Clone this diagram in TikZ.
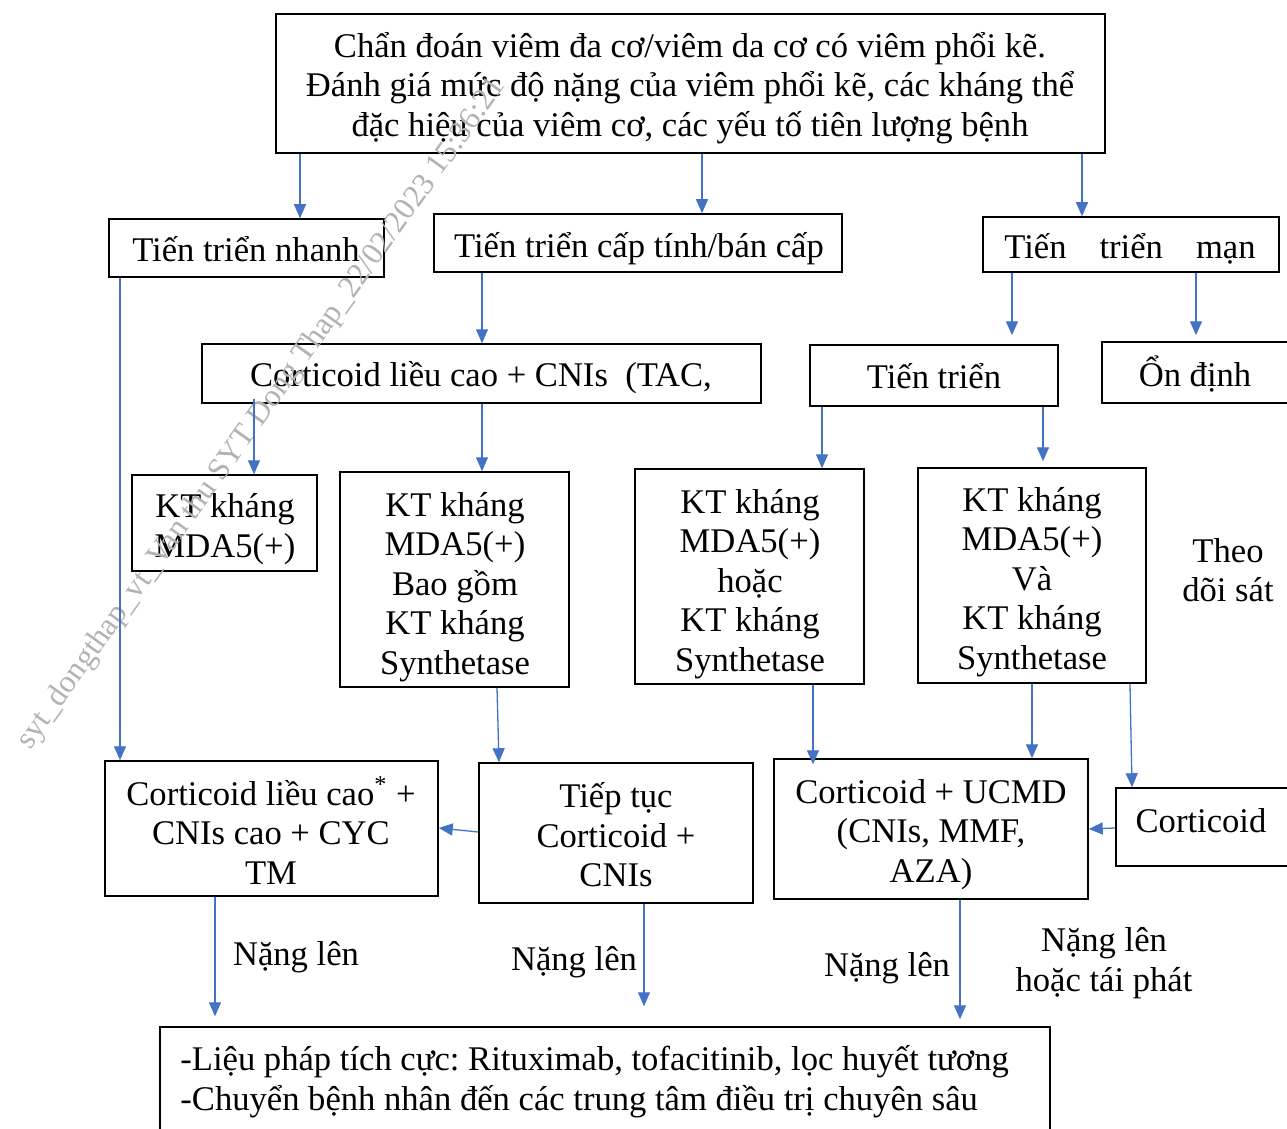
\documentclass[tikz,border=0pt]{standalone}
\usepackage{fontspec}
\setmainfont{Liberation Serif}
\usetikzlibrary{arrows.meta}
\definecolor{arrblue}{HTML}{4472C4}
\begin{document}
\begin{tikzpicture}[x=0.5pt,y=-0.5pt,
  txt/.style={font=\fontsize{17.3}{19.8}\selectfont\frenchspacing, inner sep=0pt, align=center},
  box/.style={draw=black, line width=0.75pt, inner sep=0pt},
  arr/.style={draw=arrblue, line width=0.65pt, -{Triangle[length=7pt,width=6pt]}},
  wm/.style={font=\fontsize{15.7}{18}\selectfont, text=black!30, inner sep=0pt}]
\clip (0,0) rectangle (1287,1129);
\fill[white] (0,0) rectangle (1287,1129);

% boxes
\node[box, minimum width=414.5pt, minimum height=69.5pt] (top) at (690.5,83.5) {};
\node[box, minimum width=137.5pt, minimum height=29pt] (nhanh) at (246.5,248) {};
\node[box, minimum width=204pt, minimum height=29pt] (captinh) at (638,243) {};
\node[box, minimum width=148pt, minimum height=27.5pt] (man) at (1131,244.5) {};
\node[box, minimum width=279.5pt, minimum height=29.5pt] (cort1) at (481.5,373.5) {};
\node[box, minimum width=124pt, minimum height=30.5pt] (tt) at (934,375.5) {};
\node[box, minimum width=94pt, minimum height=30.5pt] (ondinh) at (1196,372.5) {};
\node[box, minimum width=92.5pt, minimum height=48pt] (kt1) at (224.5,523) {};
\node[box, minimum width=114.5pt, minimum height=107.5pt] (kt2) at (454.5,579.5) {};
\node[box, minimum width=114.5pt, minimum height=107.5pt] (kt3) at (749.5,576.5) {};
\node[box, minimum width=114pt, minimum height=107.5pt] (kt4) at (1032,575.5) {};
\node[box, minimum width=166.5pt, minimum height=67.5pt] (c2) at (271.5,828.5) {};
\node[box, minimum width=137pt, minimum height=70pt] (tieptuc) at (616,833) {};
\node[box, minimum width=157pt, minimum height=70pt] (ucmd) at (931,829) {};
\node[box, minimum width=87pt, minimum height=39pt] (cortB) at (1203,827) {};
\node[box, minimum width=445pt, minimum height=56.5pt] (bottom) at (605,1083.5) {};

% texts of the boxes
\node[txt] (topT) at (690,88)
  {Chẩn đoán viêm đa cơ/viêm da cơ có viêm phổi kẽ.\\Đánh giá mức độ nặng của viêm phổi kẽ, các kháng thể\\đặc hiệu của viêm cơ, các yếu tố tiên lượng bệnh};
\node[txt] (nhanhT) at (246,249) {Tiến triển nhanh};
\node[txt] (captinhT) at (639,249) {Tiến triển cấp tính/bán cấp};
\node[txt] (manT) at (1130,249) {Tiến\hspace{16.5pt}triển\hspace{16.5pt}mạn};
\node[txt] (cort1T) at (481,378) {Corticoid liều cao + CNIs\ \ (TAC,};
\node[txt] (ttT) at (934,376) {Tiến triển};
\node[txt] (ondinhT) at (1195,374) {Ổn định};
\node[txt] (kt1T) at (225,529) {KT kháng\\MDA5(+)};
\node[txt] (kt2T) at (455,587) {KT kháng\\MDA5(+)\\Bao gồm\\KT kháng\\Synthetase};
\node[txt] (kt3T) at (750,584) {KT kháng\\MDA5(+)\\hoặc\\KT kháng\\Synthetase};
\node[txt] (kt4T) at (1032,582) {KT kháng\\MDA5(+)\\Và\\KT kháng\\Synthetase};
\node[txt] (theo) at (1228,570) {Theo\\dõi sát};
\node[txt] (c2T) at (271,830.5) {Corticoid liều cao\textsuperscript{*} +\\CNIs cao + CYC\\TM};
\node[txt] (tieptucT) at (616,835) {Tiếp tục\\Corticoid +\\CNIs};
\node[txt] (ucmdT) at (931,834.5) {Corticoid + UCMD\\(CNIs, MMF,\\AZA)};
\node[txt] (cortBT) at (1201,821) {Corticoid};
\node[txt, align=left, anchor=west] (bottomT) at (180,1082)
  {-Liệu pháp tích cực: Rituximab, tofacitinib, lọc huyết tương\\-Chuyển bệnh nhân đến các trung tâm điều trị chuyên sâu};

% labels
\node[txt] (nl1) at (296,957) {Nặng lên};
\node[txt] (nl2) at (574,962) {Nặng lên};
\node[txt] (nl3) at (887,968) {Nặng lên};
\node[txt] (nl4) at (1104,963) {Nặng lên\\hoặc tái phát};

% watermark
\node[wm, rotate=54.4] (wmark) at (262,414) {syt\_dongthap\_vt\_Van thu SYT Dong Thap\_22/02/2023 15:36:21};

% column / row helpers
\coordinate (x120) at (120,0);
\coordinate (x215) at (215,0);
\coordinate (x254) at (254,0);
\coordinate (x300) at (300,0);
\coordinate (x482) at (482,0);
\coordinate (x497) at (497,0);
\coordinate (x499) at (499,0);
\coordinate (x644) at (644,0);
\coordinate (x702) at (702,0);
\coordinate (x813) at (813,0);
\coordinate (x822) at (822,0);
\coordinate (x960) at (960,0);
\coordinate (x1012) at (1012,0);
\coordinate (x1032) at (1032,0);
\coordinate (x1043) at (1043,0);
\coordinate (x1082) at (1082,0);
\coordinate (x1130) at (1130,0);
\coordinate (x1132) at (1132,0);
\coordinate (x1196) at (1196,0);
\coordinate (y828) at (0,828);
\coordinate (y829) at (0,829);
\coordinate (y832) at (0,832);

% arrows
\draw[arr] (top.south -| x300) -- (nhanh.north -| x300);
\draw[arr] (top.south -| x702) -- (captinh.north -| x702);
\draw[arr] (top.south -| x1082) -- (man.north -| x1082);
\draw[arr] (nhanh.south -| x120) -- (c2.north -| x120);
\draw[arr] (captinh.south -| x482) -- (cort1.north -| x482);
\draw[arr, shorten <=-2.5pt] (cort1.south -| x254) -- (kt1.north -| x254);
\draw[arr] (cort1.south -| x482) -- (kt2.north -| x482);
\draw[arr, shorten >=4.5pt] (man.south -| x1012) -- (tt.north -| x1012);
\draw[arr, shorten >=3pt] (man.south -| x1196) -- (ondinh.north -| x1196);
\draw[arr] (tt.south -| x822) -- (kt3.north -| x822);
\draw[arr, shorten >=3pt] (tt.south -| x1043) -- (kt4.north -| x1043);
\draw[arr] (kt2.south -| x497) -- (tieptuc.north -| x499);
\draw[arr] (tieptuc.west |- y832) -- (c2.east |- y828);
\draw[arr, shorten >=-3pt] (kt3.south -| x813) -- (ucmd.north -| x813);
\draw[arr] (kt4.south -| x1032) -- (ucmd.north -| x1032);
\draw[arr] (kt4.south -| x1130) -- (cortB.north -| x1132);
\draw[arr] (cortB.west |- y828) -- (ucmd.east |- y829);
\draw[arr, shorten >=5pt] (c2.south -| x215) -- (bottom.north -| x215);
\draw[arr, shorten >=10pt] (tieptuc.south -| x644) -- (bottom.north -| x644);
\draw[arr, shorten >=3.5pt] (ucmd.south -| x960) -- (bottom.north -| x960);
\end{tikzpicture}
\end{document}
